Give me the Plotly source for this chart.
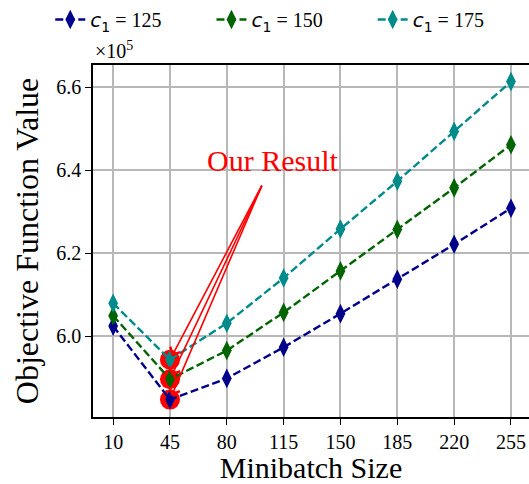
import plotly.graph_objects as go

batch_sizes = [10, 45, 80, 115, 150, 185, 220, 255]
obj_c125 = [6.025, 5.848, 5.899, 5.974, 6.055, 6.138, 6.222, 6.309]
obj_c150 = [6.050, 5.897, 5.966, 6.058, 6.158, 6.258, 6.358, 6.462]
obj_c175 = [6.080, 5.944, 6.032, 6.141, 6.259, 6.374, 6.494, 6.614]
series_names = ["125", "150", "175"]
series_colors = ["#00008B", "#006400", "#008B8B"]
highlight_x = 45
arrow_origin = (102, 6.367)
label_pos = (108, 6.424)

serif = "Times New Roman"
NB = "\u00a0"

fig = go.Figure()

series = [obj_c125, obj_c150, obj_c175]
hi_idx = batch_sizes.index(highlight_x)

fig.add_trace(go.Scatter(
    x=[highlight_x] * 3, y=[s[hi_idx] for s in series],
    mode="markers", marker=dict(symbol="circle", size=20, color="red"),
    showlegend=False, hoverinfo="skip"))

for i, (vals, name, col) in enumerate(zip(series, series_names, series_colors)):
    pad = NB * 9 if i < 2 else ""
    fig.add_trace(go.Scatter(
        x=batch_sizes, y=vals, mode="lines+markers",
        name="<span style='font-family:DejaVu Sans'><i>c</i><sub>1</sub></span> = " + name + pad,
        line=dict(color=col, width=2.4, dash="8px,3.5px"),
        marker=dict(symbol="diamond-tall", size=14, color=col)))

for vals in series:
    fig.add_annotation(
        x=highlight_x, y=vals[hi_idx], xref="x", yref="y",
        ax=arrow_origin[0], ay=arrow_origin[1], axref="x", ayref="y",
        text="", showarrow=True, arrowhead=4, arrowsize=1.4, arrowwidth=1.6,
        arrowcolor="red", standoff=4)

fig.add_annotation(x=label_pos[0], y=label_pos[1], xref="x", yref="y",
                   text="Our Result", showarrow=False,
                   font=dict(family=serif, size=30, color="red"))

fig.add_annotation(x=0, y=1, xref="paper", yref="paper", xanchor="left",
                   yanchor="bottom", yshift=1, text="×10<sup>5</sup>",
                   showarrow=False, font=dict(family=serif, size=20, color="black"))

fig.update_layout(
    width=529, height=484,
    margin=dict(l=93, r=0, t=63, b=67),
    plot_bgcolor="white", paper_bgcolor="white",
    font=dict(family=serif, size=20, color="black"),
    legend=dict(orientation="h", x=-0.098, y=1.185, xanchor="left", yanchor="top",
                font=dict(family=serif, size=20, color="black"),
                itemwidth=30, bgcolor="rgba(0,0,0,0)"),
    xaxis=dict(range=[-2.4, 266.1], tickvals=batch_sizes, ticks="outside",
               ticklen=6, tickcolor="black", showline=True, linecolor="black",
               linewidth=1.5, mirror=True, showgrid=True, gridcolor="#b8b8b8",
               gridwidth=1.5, zeroline=False,
               title=dict(text="Minibatch Size",
                          font=dict(family=serif, size=30, color="black"), standoff=8),
               tickfont=dict(family=serif, size=20, color="black")),
    yaxis=dict(range=[5.806, 6.654], tickvals=[6.0, 6.2, 6.4, 6.6],
               ticktext=["6.0", "6.2", "6.4", "6.6"], ticks="outside",
               ticklen=6, tickcolor="black", showline=True, linecolor="black",
               linewidth=1.5, showgrid=True, gridcolor="#b8b8b8", gridwidth=1.5,
               zeroline=False,
               title=dict(text="Objective Function Value",
                          font=dict(family=serif, size=32, color="black"), standoff=8),
               tickfont=dict(family=serif, size=20, color="black")),
)

fig.write_html("out.html")
